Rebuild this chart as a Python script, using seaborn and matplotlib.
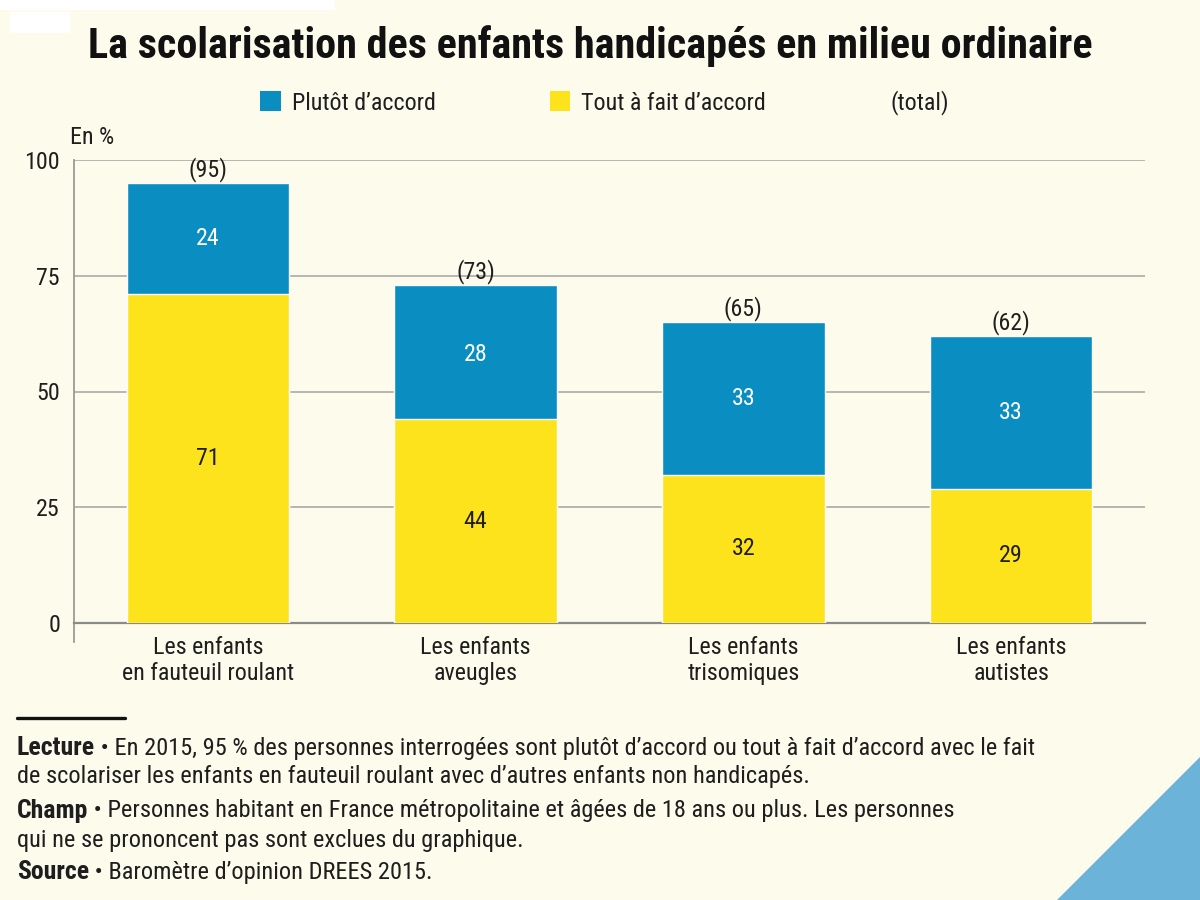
import matplotlib
matplotlib.use("Agg")
import matplotlib.pyplot as plt
from matplotlib.patches import Patch, Polygon, Rectangle
from matplotlib.lines import Line2D
import seaborn as sns
import numpy as np

# data
categories = ["Les enfants\nen fauteuil roulant", "Les enfants\naveugles",
              "Les enfants\ntrisomiques", "Les enfants\nautistes"]
plutot = [24, 28, 33, 33]
tout_a_fait = [71, 44, 32, 29]
totals = [95, 73, 65, 62]
y_ticks = [0, 25, 50, 75, 100]

bg = "#FDFBEC"
blue = "#0A8DC0"
yellow = "#FDE31B"
ink = "#1e1e1e"

sns.set_theme(style="white")
plt.rcParams['font.family'] = ['Roboto Condensed', 'Archivo Narrow', 'Liberation Sans', 'DejaVu Sans']
plt.rcParams['text.color'] = ink

fig = plt.figure(figsize=(12, 9), dpi=100, facecolor=bg)
ax = fig.add_axes([74 / 1200, 1 - 623 / 900, (1145 - 74) / 1200, (623 - 160) / 900])
ax.set_facecolor(bg)

# totals in blue, then the yellow part drawn over it
sns.barplot(x=categories, y=totals, color=blue, width=0.607, saturation=1, ax=ax, zorder=2)
sns.barplot(x=categories, y=tout_a_fait, color=yellow, width=0.607, saturation=1, ax=ax, zorder=3)

fs = 17.3
for i in range(len(categories)):
    ax.text(i, tout_a_fait[i] / 2, str(tout_a_fait[i]), ha="center", va="center",
            fontsize=fs, color=ink, zorder=5)
    ax.text(i, tout_a_fait[i] + plutot[i] / 2, str(plutot[i]), ha="center", va="center",
            fontsize=fs, color="white", zorder=5)
    ax.annotate("(%d)" % totals[i], (i, totals[i]), xytext=(0, 10), textcoords="offset points",
                ha="center", va="center", fontsize=fs, color=ink, zorder=5)

ax.set_xlim(-0.5, len(categories) - 0.5)
ax.set_ylim(0, 100)
ax.set_yticks(y_ticks)
ax.set_yticklabels([str(v) for v in y_ticks], fontsize=fs)
ax.yaxis.grid(True, color="#a3a3a3", lw=1.1, zorder=0)
ax.set_axisbelow(True)
ax.set_xlabel("")
ax.set_ylabel("")
ax.tick_params(axis="y", length=0, pad=10, labelcolor=ink)
ax.tick_params(axis="x", which="major", length=0, pad=9, labelsize=fs, labelcolor=ink)
ax.set_xticks(np.arange(-0.5, len(categories)), minor=True)
ax.tick_params(axis="x", which="minor", length=14, width=1.6, color="#8a8a8a", direction="out")
for lab in ax.get_xticklabels():
    lab.set_linespacing(1.2)

for side in ["top", "right"]:
    ax.spines[side].set_visible(False)
ax.spines["left"].set_color("#9a9a9a")
ax.spines["left"].set_linewidth(1.3)
ax.spines["left"].set_bounds(-4, 100)
ax.spines["bottom"].set_color("#8a8a8a")
ax.spines["bottom"].set_linewidth(1.6)

# title, unit, legend
fig.text(0.492, 1 - 46 / 900, "La scolarisation des enfants handicapés en milieu ordinaire",
         ha="center", va="center", fontsize=30.3, fontweight="bold", color="#111111")
fig.text(70 / 1200, 1 - 137 / 900, "En %", ha="left", va="center", fontsize=fs)

handles = [Patch(facecolor=blue, edgecolor="none"), Patch(facecolor=yellow, edgecolor="none")]
fig.legend(handles, ["Plutôt d’accord", "Tout à fait d’accord"], ncol=2,
           loc="center", bbox_to_anchor=(513 / 1200, 1 - 103 / 900), frameon=False,
           fontsize=fs, handlelength=0.85, handleheight=0.9, handletextpad=0.45,
           columnspacing=4.75)
fig.text(890 / 1200, 1 - 103 / 900, "(total)", ha="left", va="center", fontsize=fs)

# footer notes
fig.add_artist(Line2D([17 / 1200, 125 / 1200], [1 - 718 / 900] * 2, color="#111111", lw=2.4))
notes = [
    (748, "Lecture", " • En 2015, 95 % des personnes interrogées sont plutôt d’accord ou tout à fait d’accord avec le fait"),
    (776, None, "de scolariser les enfants en fauteuil roulant avec d’autres enfants non handicapés."),
    (811, "Champ", " • Personnes habitant en France métropolitaine et âgées de 18 ans ou plus. Les personnes"),
    (840, None, "qui ne se prononcent pas sont exclues du graphique."),
    (872, "Source", " • Baromètre d’opinion DREES 2015."),
]
fs_note = 17.6
for ypix, head, body in notes:
    y = 1 - ypix / 900
    if head:
        t = fig.text(17 / 1200, y, head, ha="left", va="center", fontsize=18.5, fontweight="bold")
        ax.annotate(body, xy=(1, 0.5), xycoords=t, ha="left", va="center", fontsize=fs_note,
                    annotation_clip=False)
    else:
        fig.text(17 / 1200, y, body, ha="left", va="center", fontsize=fs_note)

# decorations from the source page
fig.add_artist(Polygon([[1, 1 - 757 / 900], [1, 0], [1057 / 1200, 0]], closed=True,
                       facecolor="#6BB3D9", edgecolor="none", transform=fig.transFigure))
fig.add_artist(Rectangle((0, 1 - 10 / 900), 335 / 1200, 10 / 900, facecolor="white",
                         edgecolor="none", transform=fig.transFigure))
fig.add_artist(Rectangle((10 / 1200, 1 - 33 / 900), 60 / 1200, 21 / 900, facecolor="white",
                         edgecolor="none", transform=fig.transFigure))

fig.savefig("out.png", dpi=100, facecolor=bg)
